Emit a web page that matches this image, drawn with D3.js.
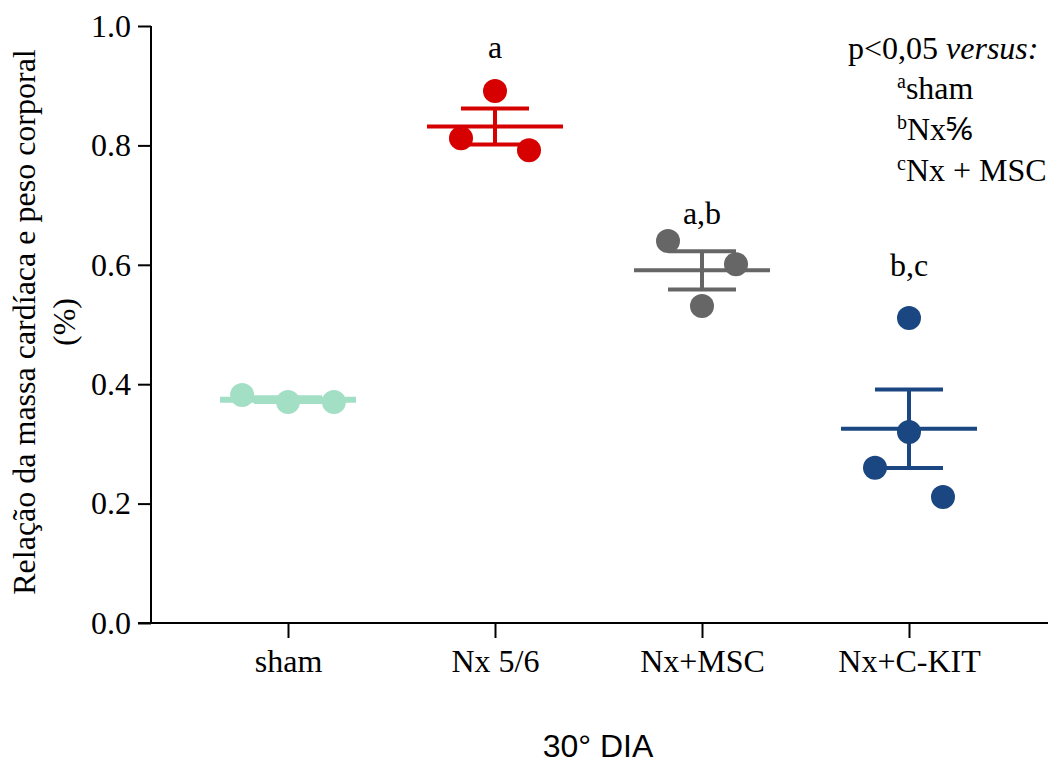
<!DOCTYPE html>
<html>
<head>
<meta charset="utf-8">
<script src="https://cdn.jsdelivr.net/npm/d3@7"></script>
<style>
  body { margin: 0; background: #fff; }
  svg { display: block; }
  .serif { font-family: "Liberation Serif", "Times New Roman", serif; }
</style>
</head>
<body>
<svg id="chart" width="1051" height="772"></svg>
<script>
// groups and their colours
const groups = ['sham', 'Nx 5/6', 'Nx+MSC', 'Nx+C-KIT'];
const colors = ['#a3dfc5', '#d60000', '#666666', '#1a4781'];

// individual values (ratio, %)
const shamValues = [0.382, 0.370, 0.370];
const nxValues = [0.891, 0.812, 0.792];
const mscValues = [0.640, 0.601, 0.531];
const ckitValues = [0.511, 0.320, 0.260, 0.211];
const groupValues = [shamValues, nxValues, mscValues, ckitValues];

// scatter column of each point (GraphPad style spread)
const shamSlots = [-1.35, 0, 1.35];
const nxSlots = [0, -1, 1];
const mscSlots = [-1, 1, 0];
const ckitSlots = [0, 0, -1, 1];
const groupSlots = [shamSlots, nxSlots, mscSlots, ckitSlots];

// significance letters and where they sit
const sigLetters = ['', 'a', 'a,b', 'b,c'];
const sigLevels = [0, 0.946, 0.668, 0.581];

const yTicks = [0, 0.2, 0.4, 0.6, 0.8, 1.0];

const fs = 32;
const svg = d3.select('#chart');

const x = d3.scalePoint()
  .domain(groups)
  .range([288, 909]);

const y = d3.scaleLinear()
  .domain([0, 1])
  .range([623, 26]);

const spread = 34;

// axes
const yAxis = svg.append('g')
  .attr('transform', 'translate(151,0)')
  .call(d3.axisLeft(y).tickValues(yTicks).tickFormat(d3.format('.1f')).tickSize(13).tickPadding(7));

const xAxis = svg.append('g')
  .attr('transform', `translate(0,${y(0)})`)
  .call(d3.axisBottom(x).tickSize(15).tickPadding(11));

[yAxis, xAxis].forEach(g => {
  g.select('.domain').remove();
  g.selectAll('line').attr('stroke', '#000').attr('stroke-width', 2);
  g.selectAll('text')
    .attr('class', 'serif')
    .attr('font-size', fs)
    .attr('fill', '#000');
});

svg.append('line')
  .attr('x1', 151).attr('x2', 151)
  .attr('y1', y(1)).attr('y2', y(0))
  .attr('stroke', '#000').attr('stroke-width', 2);

svg.append('line')
  .attr('x1', 138).attr('x2', 1048)
  .attr('y1', y(0)).attr('y2', y(0))
  .attr('stroke', '#000').attr('stroke-width', 2);

// mean +/- SEM and points
groups.forEach((g, i) => {
  const vals = groupValues[i];
  const mean = d3.mean(vals);
  const sem = d3.deviation(vals) / Math.sqrt(vals.length);
  const cx = x(g);
  const grp = svg.append('g');
  const col = colors[i];

  grp.append('line')
    .attr('x1', cx).attr('x2', cx)
    .attr('y1', y(mean + sem)).attr('y2', y(mean - sem))
    .attr('stroke', col).attr('stroke-width', 4);

  [mean + sem, mean - sem].forEach(v => {
    grp.append('line')
      .attr('x1', cx - spread).attr('x2', cx + spread)
      .attr('y1', y(v)).attr('y2', y(v))
      .attr('stroke', col).attr('stroke-width', 4);
  });

  grp.append('line')
    .attr('x1', cx - 68).attr('x2', cx + 68)
    .attr('y1', y(mean)).attr('y2', y(mean))
    .attr('stroke', col).attr('stroke-width', i === 0 ? 6 : 4);

  grp.selectAll('circle')
    .data(vals)
    .enter()
    .append('circle')
    .attr('cx', (d, j) => cx + groupSlots[i][j] * spread)
    .attr('cy', d => y(d))
    .attr('r', 12)
    .attr('fill', col);

  if (sigLetters[i]) {
    svg.append('text')
      .attr('class', 'serif')
      .attr('x', cx)
      .attr('y', y(sigLevels[i]))
      .attr('text-anchor', 'middle')
      .attr('font-size', fs)
      .text(sigLetters[i]);
  }
});

// y axis title
const yTitle = svg.append('text')
  .attr('class', 'serif')
  .attr('transform', 'translate(35,322) rotate(-90)')
  .attr('text-anchor', 'middle')
  .attr('font-size', fs);
yTitle.append('tspan').attr('x', 0).attr('y', 0).text('Relação da massa cardíaca e peso corporal');
yTitle.append('tspan').attr('x', 0).attr('y', 40).text('(%)');

// x axis title
svg.append('text')
  .attr('x', 598)
  .attr('y', 757)
  .attr('text-anchor', 'middle')
  .attr('font-family', '"Liberation Sans", Arial, sans-serif')
  .attr('font-size', 32)
  .text('30° DIA');

// significance key
const key = svg.append('g').attr('class', 'serif').attr('font-size', fs);
const head = key.append('text').attr('x', 848).attr('y', 59);
head.append('tspan').text('p<0,05 ');
head.append('tspan').attr('font-style', 'italic').text('versus:');

const keySup = ['a', 'b', 'c'];
const keyNames = ['sham', 'Nx⅚', 'Nx + MSC'];
keyNames.forEach((name, i) => {
  const t = key.append('text').attr('x', 897).attr('y', 99 + i * 41);
  t.append('tspan').attr('font-size', 20).attr('dy', -11).text(keySup[i]);
  t.append('tspan').attr('dy', 11).text(name);
});
</script>
</body>
</html>
